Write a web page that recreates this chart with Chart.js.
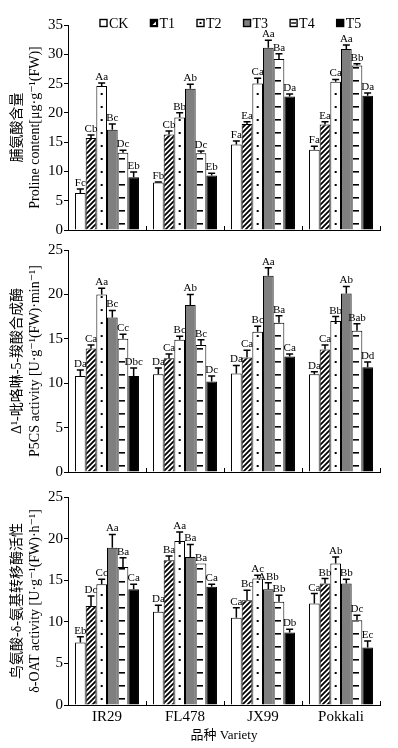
<!DOCTYPE html>
<html>
<head>
<meta charset="utf-8">
<script src="https://cdn.jsdelivr.net/npm/chart.js@4.4.0/dist/chart.umd.min.js"></script>
<style>
html, body { margin: 0; padding: 0; background: #fff; }
#wrap { position: relative; width: 398px; height: 748px; }
canvas { position: absolute; left: 0; }
</style>
</head>
<body>
<div id="wrap">
<canvas id="c1" width="398" height="240" style="top:0px"></canvas>
<canvas id="c2" width="398" height="242" style="top:240px"></canvas>
<canvas id="c3" width="398" height="266" style="top:482px"></canvas>
</div>
<script>
var varieties = ['IR29', 'FL478', 'JX99', 'Pokkali'];
var treatments = ['CK', 'T1', 'T2', 'T3', 'T4', 'T5'];

// rows = CK..T5, columns = varieties
var prolineMean = [
	[6.3, 8.1, 14.6, 13.7],
	[15.7, 16.3, 18.1, 18.0],
	[24.6, 19.2, 25.0, 25.3],
	[17.1, 24.1, 31.1, 30.9],
	[13.2, 13.1, 29.2, 28.1],
	[9.0, 9.3, 22.8, 22.9]
];
var prolineErr = [
	[0.7, 0.1, 0.6, 0.6],
	[0.5, 0.6, 0.4, 0.5],
	[0.5, 0.8, 0.9, 0.4],
	[1.0, 0.8, 1.3, 0.7],
	[0.4, 0.4, 0.9, 0.3],
	[0.9, 0.4, 0.4, 0.5]
];
var prolineSig = [
	['Fc', 'Fb', 'Fa', 'Fa'],
	['Cb', 'Cb', 'Ea', 'Ea'],
	['Aa', 'Bb', 'Ca', 'Ca'],
	['Bc', 'Ab', 'Aa', 'Aa'],
	['Dc', 'Dc', 'Ba', 'Bb'],
	['Eb', 'Eb', 'Da', 'Da']
];
var prolineTicks = [0, 5, 10, 15, 20, 25, 30, 35];

var p5csMean = [
	[10.8, 11.0, 11.1, 11.0],
	[13.9, 12.8, 12.9, 13.8],
	[20.0, 14.9, 15.8, 17.0],
	[17.4, 18.8, 22.1, 20.1],
	[15.0, 14.3, 16.8, 15.9],
	[10.8, 10.2, 13.0, 11.8]
];
var p5csErr = [
	[0.7, 0.7, 0.9, 0.3],
	[0.4, 0.5, 0.8, 0.5],
	[0.7, 0.4, 0.6, 0.5],
	[0.8, 1.2, 0.9, 0.8],
	[0.5, 0.6, 0.8, 0.8],
	[0.9, 0.6, 0.3, 0.6]
];
var p5csSig = [
	['Da', 'Da', 'Da', 'Da'],
	['Ca', 'Ca', 'Ca', 'Ca'],
	['Aa', 'Bc', 'Bc', 'Bb'],
	['Bc', 'Ab', 'Aa', 'Ab'],
	['Cc', 'Bc', 'Ba', 'Bab'],
	['Dbc', 'Dc', 'Ca', 'Dd']
];
var p5csTicks = [0, 5, 10, 15, 20, 25];

var oatMean = [
	[7.5, 11.2, 10.5, 12.2],
	[11.9, 17.4, 12.6, 14.6],
	[14.5, 19.7, 15.2, 17.0],
	[18.9, 17.8, 13.9, 14.6],
	[16.6, 17.0, 12.4, 10.2],
	[13.9, 14.2, 8.7, 6.9]
];
var oatErr = [
	[0.7, 0.8, 1.2, 1.2],
	[1.2, 0.5, 1.2, 0.6],
	[0.6, 1.1, 0.4, 0.8],
	[1.6, 1.5, 0.8, 0.5],
	[1.1, 0.0, 0.8, 0.6],
	[0.6, 0.3, 0.4, 0.8]
];
var oatSig = [
	['Eb', 'Da', 'Ca', 'Ca'],
	['Dc', 'Ba', 'Bc', 'Bb'],
	['Cc', 'Aa', 'Ac', 'Ab'],
	['Aa', 'Ba', 'ABb', 'Bb'],
	['Ba', 'Ba', 'Bb', 'Dc'],
	['Ca', 'Ca', 'Db', 'Ec']
];
var oatTicks = [0, 5, 10, 15, 20, 25];

var SERIF = "'Liberation Serif', 'Times New Roman', 'DejaVu Serif', 'Noto Sans CJK SC', serif";
Chart.defaults.font.family = SERIF;
Chart.defaults.color = '#000';

// fill kinds per treatment
var kinds = ['open', 'hatch', 'dot', 'grey', 'dash', 'solid'];

function makePattern(kind) {
	var c = document.createElement('canvas');
	var g = c.getContext('2d');
	if (kind == 'hatch') {
		c.width = 5; c.height = 5;
		g.fillStyle = '#fff'; g.fillRect(0, 0, 5, 5);
		g.strokeStyle = '#000'; g.lineWidth = 1.8;
		g.beginPath();
		g.moveTo(-1, 6); g.lineTo(6, -1);
		g.moveTo(-1, 1); g.lineTo(1, -1);
		g.moveTo(4, 6); g.lineTo(6, 4);
		g.stroke();
	} else {
		c.width = 78; c.height = 13;
		g.fillStyle = '#fff'; g.fillRect(0, 0, 78, 13);
		g.fillStyle = '#000';
		if (kind == 'dot') g.fillRect(38, 6, 2, 2);
		else g.fillRect(35, 6, 6, 1.6);
	}
	var p = g.createPattern(c, 'repeat');
	p.aligned = kind != 'hatch';
	return p;
}

function fillFor(kind) {
	if (kind == 'open') return '#fff';
	if (kind == 'grey') return '#7f7f7f';
	if (kind == 'solid') return '#000';
	return makePattern(kind);
}

function buildDatasets(means, errs, sigs) {
	return treatments.map(function(t, k) {
		return {
			label: t,
			data: means[k],
			err: errs[k],
			sig: sigs[k],
			kind: kinds[k],
			backgroundColor: fillFor(kinds[k]),
			borderColor: '#000',
			borderWidth: 1,
			categoryPercentage: 0.82,
			barPercentage: 1.0
		};
	});
}

// line the dot / dash columns up with the bar centres
var patternAlign = {
	id: 'patternAlign',
	beforeDatasetsDraw: function(chart) {
		chart.data.datasets.forEach(function(ds, k) {
			var p = ds.backgroundColor;
			if (p && p.aligned) {
				var x0 = chart.getDatasetMeta(k).data[0].x;
				p.setTransform(new DOMMatrix().translateSelf(x0 - 39, chart.chartArea.bottom));
			}
		});
	}
};

var errorBars = {
	id: 'errorBars',
	afterDatasetsDraw: function(chart) {
		var ctx = chart.ctx, y = chart.scales.y;
		ctx.save();
		ctx.strokeStyle = '#000';
		ctx.fillStyle = '#000';
		ctx.lineWidth = 1.5;
		ctx.font = '11px ' + SERIF;
		ctx.textAlign = 'center';
		ctx.textBaseline = 'alphabetic';
		chart.data.datasets.forEach(function(ds, k) {
			chart.getDatasetMeta(k).data.forEach(function(bar, i) {
				var top = y.getPixelForValue(ds.data[i] + ds.err[i]);
				if (ds.err[i] > 0) {
					ctx.beginPath();
					ctx.moveTo(bar.x, bar.y);
					ctx.lineTo(bar.x, top);
					ctx.moveTo(bar.x - 3.5, top);
					ctx.lineTo(bar.x + 3.5, top);
					ctx.stroke();
				}
				ctx.fillText(ds.sig[i], bar.x, top - 3);
			});
		});
		ctx.restore();
	}
};

// small inward ticks between the variety groups
var groupTicks = {
	id: 'groupTicks',
	afterDraw: function(chart) {
		var ctx = chart.ctx, x = chart.scales.x, b = chart.chartArea.bottom;
		var w = x.getPixelForValue(1) - x.getPixelForValue(0);
		ctx.save();
		ctx.strokeStyle = '#000';
		ctx.lineWidth = 1;
		ctx.beginPath();
		for (var i = 0; i < chart.data.labels.length; i++) {
			var px = Math.round(x.getPixelForValue(i) + w / 2) + 0.5;
			ctx.moveTo(px, b);
			ctx.lineTo(px, b - 4);
		}
		ctx.stroke();
		ctx.restore();
	}
};

function drawIcon(ctx, kind, x, y, s) {
	ctx.fillStyle = kind == 'grey' ? '#7f7f7f' : (kind == 'solid' || kind == 'hatch') ? '#000' : '#fff';
	ctx.fillRect(x, y, s, s);
	ctx.fillStyle = kind == 'hatch' ? '#fff' : '#000';
	if (kind == 'hatch') {
		ctx.beginPath();
		ctx.moveTo(x + 2, y + s - 1.5);
		ctx.lineTo(x + s - 1.5, y + 2);
		ctx.lineTo(x + s - 1.5, y + s - 1.5);
		ctx.closePath();
		ctx.fill();
	}
	if (kind == 'dot') ctx.fillRect(x + s / 2 - 1, y + s / 2 - 1, 2, 2);
	if (kind == 'dash') ctx.fillRect(x + 1, y + s / 2 - 0.7, s - 2, 1.4);
	ctx.strokeStyle = '#000';
	ctx.lineWidth = 1.4;
	ctx.strokeRect(x, y, s, s);
}

var boxLegend = {
	id: 'boxLegend',
	afterDraw: function(chart) {
		var ctx = chart.ctx;
		ctx.save();
		ctx.font = '14px ' + SERIF;
		ctx.textBaseline = 'middle';
		var x = 100, yc = 23, s = 7;
		chart.data.datasets.forEach(function(ds) {
			drawIcon(ctx, ds.kind, x, yc - s / 2, s);
			ctx.fillStyle = '#000';
			ctx.fillText(ds.label, x + s + 2, yc + 1);
			x += s + 2 + ctx.measureText(ds.label).width + 22;
		});
		ctx.restore();
	}
};

function makeChart(id, datasets, ticks, title, padTop, bottomAxis, extraPlugins) {
	var xAxis = {
		grid: { display: false, drawTicks: false },
		border: { color: '#000', width: 1 },
		ticks: { display: bottomAxis, font: { size: 15 }, padding: 3, color: '#000' },
		afterFit: function(s) { s.height = bottomAxis ? 43 : 10; }
	};
	if (bottomAxis) {
		xAxis.title = { display: true, text: '品种 Variety', font: { size: 13 }, padding: { top: 0, bottom: 5 } };
	}
	return new Chart(document.getElementById(id), {
		type: 'bar',
		data: { labels: varieties, datasets: datasets },
		options: {
			responsive: false,
			animation: false,
			events: [],
			layout: { padding: { top: padTop, right: 18, bottom: 0, left: 0 } },
			plugins: { legend: { display: false }, tooltip: { enabled: false } },
			scales: {
				x: xAxis,
				y: {
					min: ticks[0],
					max: ticks[ticks.length - 1],
					afterBuildTicks: function(s) { s.ticks = ticks.map(function(v) { return { value: v }; }); },
					ticks: { font: { size: 15 }, padding: 1, color: '#000' },
					grid: { drawOnChartArea: false, drawTicks: true, tickLength: 4, color: '#000' },
					border: { color: '#000', width: 1 },
					title: { display: true, text: title, font: { size: 14, lineHeight: 18 / 14 }, padding: { top: 8, bottom: 0 } },
					afterFit: function(s) { s.width = 68; }
				}
			}
		},
		plugins: [patternAlign, errorBars, groupTicks].concat(extraPlugins || [])
	});
}

makeChart('c1', buildDatasets(prolineMean, prolineErr, prolineSig), prolineTicks,
	['脯氨酸含量', 'Proline content[μg·g⁻¹(FW)]'], 25, false, [boxLegend]);
makeChart('c2', buildDatasets(p5csMean, p5csErr, p5csSig), p5csTicks,
	['Δ¹-吡咯啉-5-羧酸合成酶', 'P5CS activity [U·g⁻¹(FW)·min⁻¹]'], 9, false);
makeChart('c3', buildDatasets(oatMean, oatErr, oatSig), oatTicks,
	['鸟氨酸-δ-氨基转移酶活性', 'δ-OAT activity [U·g⁻¹(FW)·h⁻¹]'], 15, true);
</script>
</body>
</html>
